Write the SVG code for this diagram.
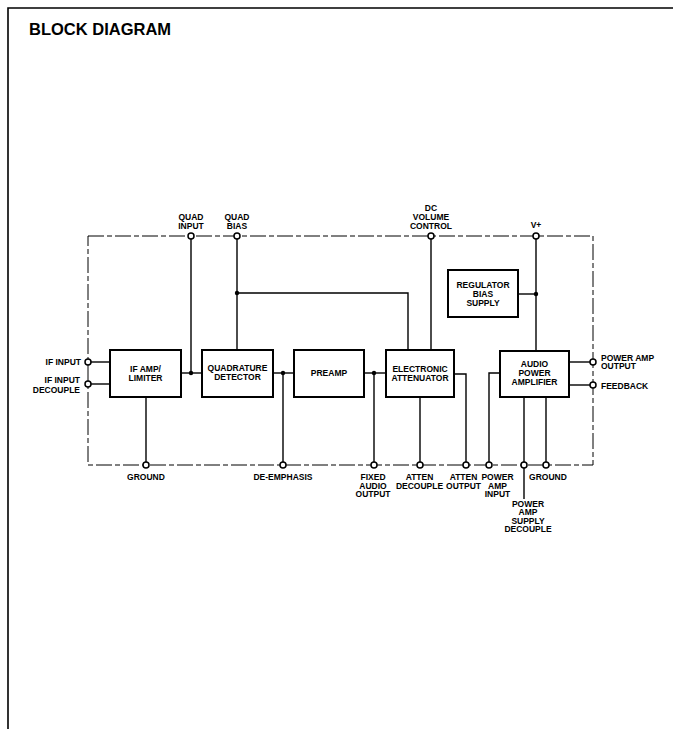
<svg xmlns="http://www.w3.org/2000/svg" width="673" height="729" viewBox="0 0 673 729">
<style>
  .frame{fill:none;stroke:#000;stroke-width:1.6}
  .boundary{fill:none;stroke:#000;stroke-width:1;stroke-dasharray:16 3 5 3}
  .blk{fill:#fff;stroke:#000;stroke-width:2}
  .wire{fill:none;stroke:#000;stroke-width:1.4}
  .pin{fill:#fff;stroke:#000;stroke-width:1.5}
  .dot{fill:#000}
  text{font-family:"Liberation Sans",Arial,sans-serif;font-weight:bold;font-size:8.5px;fill:#000}
  .c{text-anchor:middle}
  .r{text-anchor:end}
  .title{font-size:16.5px}
</style>
<rect width="673" height="729" fill="#fff"/>
<path class="frame" d="M8,729 V8 H673"/>
<text class="title" x="29" y="35">BLOCK DIAGRAM</text>
<rect class="boundary" x="88" y="236" width="505" height="229"/>

<g id="connectors">
  <path class="wire" d="M88,362 H110"/>
  <path class="wire" d="M88,384 H110"/>
  <path class="wire" d="M146,397 V465"/>
  <path class="wire" d="M181,373 H202"/>
  <path class="wire" d="M191,236 V373"/>
  <path class="wire" d="M237,236 V350"/>
  <path class="wire" d="M237,293 H408 V350"/>
  <path class="wire" d="M431,236 V350"/>
  <path class="wire" d="M273,373 H294"/>
  <path class="wire" d="M283,373 V465"/>
  <path class="wire" d="M364,373 H386"/>
  <path class="wire" d="M374,373 V465"/>
  <path class="wire" d="M420,397 V465"/>
  <path class="wire" d="M454,374 H466 V465"/>
  <path class="wire" d="M489,465 V373 H500"/>
  <path class="wire" d="M524,397 V499"/>
  <path class="wire" d="M546,397 V465"/>
  <path class="wire" d="M536,236 V351"/>
  <path class="wire" d="M518,294 H536"/>
  <path class="wire" d="M569,362 H593"/>
  <path class="wire" d="M569,385 H593"/>
  <circle class="dot" cx="191" cy="373" r="2.2"/>
  <circle class="dot" cx="237" cy="293" r="2.2"/>
  <circle class="dot" cx="283" cy="373" r="2.2"/>
  <circle class="dot" cx="374" cy="373" r="2.2"/>
  <circle class="dot" cx="536" cy="294" r="2.2"/>
</g>

<g id="if-amp">
  <rect class="blk" x="110" y="350" width="71" height="47"/>
  <text class="c" x="145.5" y="372">IF AMP/</text>
  <text class="c" x="145.5" y="381">LIMITER</text>
</g>
<g id="quad-det">
  <rect class="blk" x="202" y="350" width="71" height="47"/>
  <text class="c" x="237.5" y="371">QUADRATURE</text>
  <text class="c" x="237.5" y="380">DETECTOR</text>
</g>
<g id="preamp">
  <rect class="blk" x="294" y="350" width="70" height="47"/>
  <text class="c" x="329" y="376">PREAMP</text>
</g>
<g id="elec-att">
  <rect class="blk" x="386" y="350" width="68" height="47"/>
  <text class="c" x="420" y="372">ELECTRONIC</text>
  <text class="c" x="420" y="381">ATTENUATOR</text>
</g>
<g id="regulator">
  <rect class="blk" x="448" y="270" width="70" height="47"/>
  <text class="c" x="483" y="288">REGULATOR</text>
  <text class="c" x="483" y="297">BIAS</text>
  <text class="c" x="483" y="306">SUPPLY</text>
</g>
<g id="audio-amp">
  <rect class="blk" x="500" y="351" width="69" height="46"/>
  <text class="c" x="534.5" y="367">AUDIO</text>
  <text class="c" x="534.5" y="376">POWER</text>
  <text class="c" x="534.5" y="385">AMPLIFIER</text>
</g>

<g id="pin-quad-input">
  <circle class="pin" cx="191" cy="236" r="3"/>
  <text class="c" x="191" y="220">QUAD</text>
  <text class="c" x="191" y="229">INPUT</text>
</g>
<g id="pin-quad-bias">
  <circle class="pin" cx="237" cy="236" r="3"/>
  <text class="c" x="237" y="220">QUAD</text>
  <text class="c" x="237" y="229">BIAS</text>
</g>
<g id="pin-dc-volume">
  <circle class="pin" cx="431" cy="236" r="3"/>
  <text class="c" x="431" y="211">DC</text>
  <text class="c" x="431" y="220">VOLUME</text>
  <text class="c" x="431" y="229">CONTROL</text>
</g>
<g id="pin-vplus">
  <circle class="pin" cx="536" cy="236" r="3"/>
  <text class="c" x="536" y="228">V+</text>
</g>
<g id="pin-if-input">
  <circle class="pin" cx="88" cy="362" r="3"/>
  <text class="r" x="81" y="365">IF INPUT</text>
</g>
<g id="pin-if-decouple">
  <circle class="pin" cx="88" cy="384" r="3"/>
  <text class="r" x="80" y="383">IF INPUT</text>
  <text class="r" x="80" y="392.5">DECOUPLE</text>
</g>
<g id="pin-ground1">
  <circle class="pin" cx="146" cy="465" r="3"/>
  <text class="c" x="146" y="480">GROUND</text>
</g>
<g id="pin-deemph">
  <circle class="pin" cx="283" cy="465" r="3"/>
  <text class="c" x="283" y="480">DE-EMPHASIS</text>
</g>
<g id="pin-fixed-audio">
  <circle class="pin" cx="374" cy="465" r="3"/>
  <text class="c" x="373" y="480">FIXED</text>
  <text class="c" x="373" y="488.5">AUDIO</text>
  <text class="c" x="373" y="497">OUTPUT</text>
</g>
<g id="pin-atten-decouple">
  <circle class="pin" cx="420" cy="465" r="3"/>
  <text class="c" x="419.5" y="480">ATTEN</text>
  <text class="c" x="419.5" y="488.5">DECOUPLE</text>
</g>
<g id="pin-atten-output">
  <circle class="pin" cx="466" cy="465" r="3"/>
  <text class="c" x="463.5" y="480">ATTEN</text>
  <text class="c" x="463.5" y="488.5">OUTPUT</text>
</g>
<g id="pin-pa-input">
  <circle class="pin" cx="489" cy="465" r="3"/>
  <text class="c" x="497.5" y="480">POWER</text>
  <text class="c" x="497.5" y="488.5">AMP</text>
  <text class="c" x="497.5" y="497">INPUT</text>
</g>
<g id="pin-pa-supply">
  <circle class="pin" cx="524" cy="465" r="3"/>
  <text class="c" x="528" y="506.5">POWER</text>
  <text class="c" x="528" y="515">AMP</text>
  <text class="c" x="528" y="523.5">SUPPLY</text>
  <text class="c" x="528" y="532">DECOUPLE</text>
</g>
<g id="pin-ground2">
  <circle class="pin" cx="546" cy="465" r="3"/>
  <text class="c" x="548" y="480">GROUND</text>
</g>
<g id="pin-pa-output">
  <circle class="pin" cx="593" cy="362" r="3"/>
  <text x="601" y="360.5">POWER AMP</text>
  <text x="601" y="369">OUTPUT</text>
</g>
<g id="pin-feedback">
  <circle class="pin" cx="593" cy="385" r="3"/>
  <text x="601" y="388.5">FEEDBACK</text>
</g>
</svg>
